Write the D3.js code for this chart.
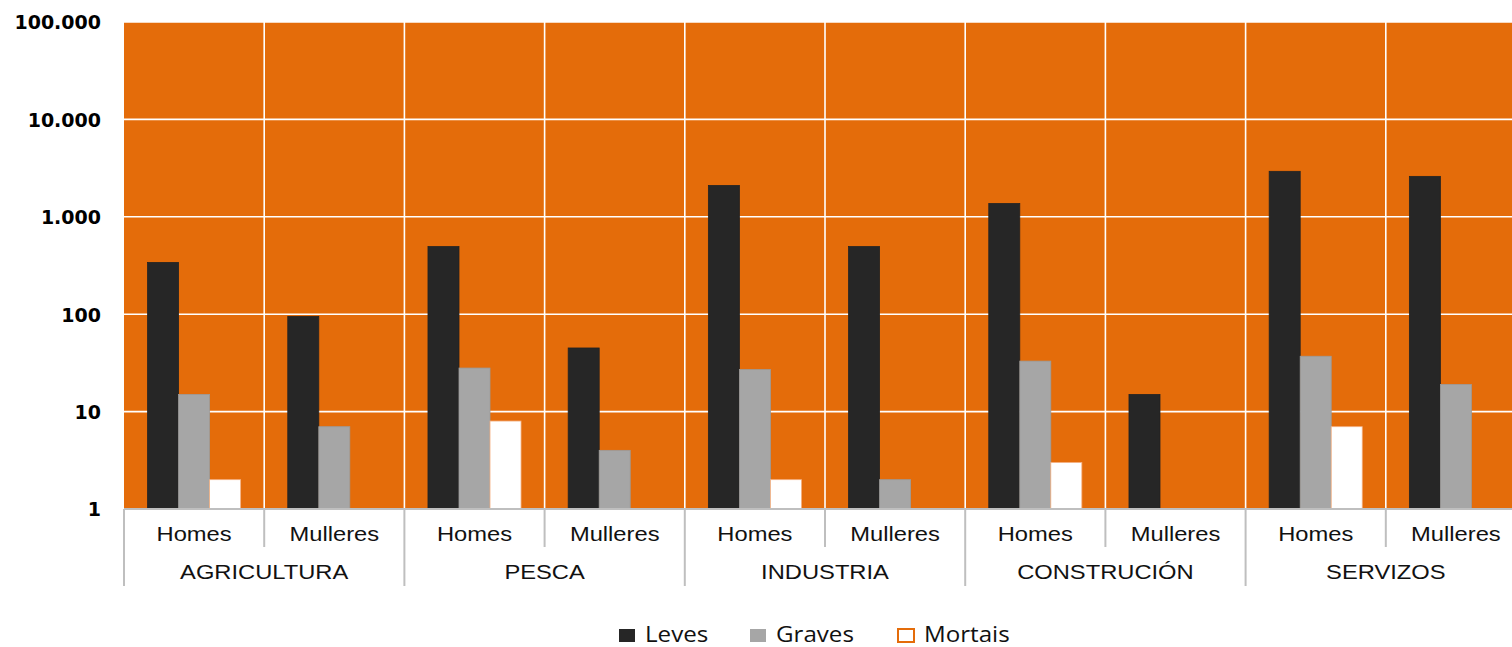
<!DOCTYPE html>
<html>
<head>
<meta charset="utf-8">
<script src="https://cdn.jsdelivr.net/npm/d3@7"></script>
<style>
  html, body { margin: 0; padding: 0; background: #fff; overflow: hidden; }
  svg { display: block; }
</style>
</head>
<body>
<svg id="chart" width="1512" height="647"></svg>
<script>
// ---- Data ----
const categories = ["AGRICULTURA", "PESCA", "INDUSTRIA", "CONSTRUCIÓN", "SERVIZOS"];
const sexes = ["Homes", "Mulleres"];
const seriesNames = ["Leves", "Graves", "Mortais"];
// order: cat0 Homes, cat0 Mulleres, cat1 Homes, ...
const leves   = [340, 95, 495, 45, 2100, 495, 1370, 15, 2930, 2600];
const graves  = [15, 7, 28, 4, 27, 2, 33, null, 37, 19];
const mortais = [2, null, 8, null, 2, null, 3, null, 7, null];
const yTicks = [1, 10, 100, 1000, 10000, 100000];

(function () {
// ---- Layout ----
const svg = d3.select("#chart");
const pLeft = 124, pRight = 1526, pTop = 22, pBottom = 509;
const orange = "#E46C0A";
const colors = { Leves: "#262626", Graves: "#A6A6A6", Mortais: "#FFFFFF" };
const stretch = 1.13;

const slots = [];
categories.forEach((c, i) => sexes.forEach((s, j) => slots.push({ cat: c, sex: s, key: c + "|" + s, idx: i * 2 + j })));

const x = d3.scaleBand().domain(slots.map(d => d.key)).range([pLeft, pRight]).padding(0);
const xInner = d3.scaleBand().domain(seriesNames).range([0, x.step()]).paddingInner(0).paddingOuter(0.76);
const y = d3.scaleLog().domain([1, 100000]).range([pBottom, pTop]);

const locale = d3.formatLocale({ decimal: ",", thousands: ".", grouping: [3], currency: ["", "€"] });
const fmt = locale.format(",d");

// background
svg.append("rect").attr("x", pLeft).attr("y", pTop).attr("width", pRight - pLeft).attr("height", pBottom - pTop).attr("fill", orange);

// horizontal gridlines
svg.append("g").selectAll("line").data(yTicks).join("line")
  .attr("x1", pLeft).attr("x2", pRight)
  .attr("y1", d => y(d)).attr("y2", d => y(d))
  .attr("stroke", "#fff").attr("stroke-width", 1.6);

// vertical gridlines at slot boundaries
svg.append("g").selectAll("line").data(slots.slice(1)).join("line")
  .attr("x1", d => x(d.key)).attr("x2", d => x(d.key))
  .attr("y1", pTop).attr("y2", pBottom)
  .attr("stroke", "#fff").attr("stroke-width", 1.6);

// bars
const barData = [];
slots.forEach((s, i) => {
  const vals = { Leves: leves[i], Graves: graves[i], Mortais: mortais[i] };
  seriesNames.forEach(n => { if (vals[n] != null) barData.push({ slot: s, series: n, value: vals[n] }); });
});
svg.append("g").selectAll("rect").data(barData).join("rect")
  .attr("x", d => x(d.slot.key) + xInner(d.series))
  .attr("width", xInner.bandwidth())
  .attr("y", d => y(d.value))
  .attr("height", d => y(1) - y(d.value))
  .attr("fill", d => colors[d.series])
  .attr("stroke", d => d.series === "Mortais" ? "#F4B183" : d3.color(colors[d.series]).darker(0.2))
  .attr("stroke-width", 0.8);

// y axis labels
const yAxis = d3.axisLeft(y).tickValues(yTicks).tickFormat(d => fmt(d)).tickSize(0).tickPadding(0);
const gy = svg.append("g").attr("transform", `translate(101,0)`).call(yAxis);
gy.select(".domain").remove();
gy.selectAll("text")
  .attr("font-family", "DejaVu Sans, sans-serif")
  .attr("font-weight", "bold")
  .attr("font-size", 19)
  .attr("fill", "#000")
  .attr("dy", "0.36em");

// category axis lines
const axisColor = "#BFBFBF";
svg.append("line").attr("x1", pLeft).attr("x2", pRight).attr("y1", pBottom).attr("y2", pBottom)
  .attr("stroke", axisColor).attr("stroke-width", 2);
const catBounds = categories.map(c => x(c + "|" + sexes[0]));
svg.append("g").selectAll("line").data(catBounds).join("line")
  .attr("x1", d => d).attr("x2", d => d).attr("y1", pBottom).attr("y2", 586)
  .attr("stroke", axisColor).attr("stroke-width", 2);
svg.append("g").selectAll("line").data(categories).join("line")
  .attr("x1", c => x(c + "|" + sexes[1])).attr("x2", c => x(c + "|" + sexes[1]))
  .attr("y1", pBottom).attr("y2", 547)
  .attr("stroke", axisColor).attr("stroke-width", 2);

// sub labels
svg.append("g").selectAll("text").data(slots).join("text")
  .attr("transform", d => `translate(${x(d.key) + x.bandwidth() / 2},541) scale(${stretch},1)`)
  .attr("text-anchor", "middle")
  .attr("font-family", "Liberation Sans, Arial, sans-serif")
  .attr("font-size", 21)
  .attr("fill", "#111")
  .text(d => d.sex);

// category labels
svg.append("g").selectAll("text").data(categories).join("text")
  .attr("transform", c => `translate(${(x(c + "|" + sexes[0]) + x(c + "|" + sexes[1]) + x.bandwidth()) / 2},579) scale(${stretch},1)`)
  .attr("text-anchor", "middle")
  .attr("font-family", "Liberation Sans, Arial, sans-serif")
  .attr("font-size", 21)
  .attr("fill", "#111")
  .text(c => c);

// legend
const legendX = [619, 750, 898];
const lg = svg.append("g").selectAll("g").data(seriesNames).join("g")
  .attr("transform", (d, i) => `translate(${legendX[i]},629)`);
lg.append("rect")
  .attr("x", 0).attr("y", 0)
  .attr("width", 16).attr("height", 13)
  .attr("fill", d => colors[d])
  .attr("stroke", d => d === "Mortais" ? orange : "none")
  .attr("stroke-width", 2);
lg.append("text")
  .attr("transform", "translate(26,13) scale(1.15,1)")
  .attr("font-family", "Open Sans, sans-serif")
  .attr("font-size", 21)
  .attr("fill", "#111")
  .text(d => d);
})();
</script>
</body>
</html>
